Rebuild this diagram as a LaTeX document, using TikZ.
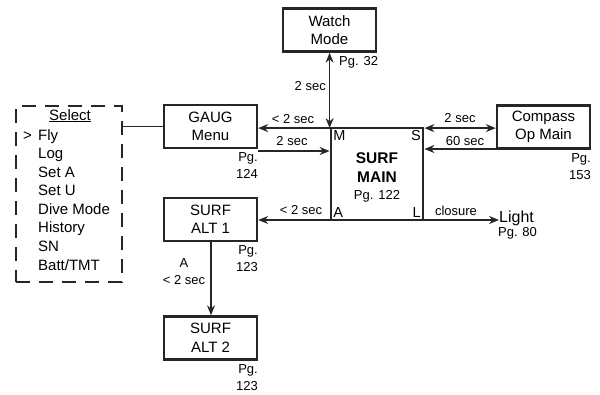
\documentclass[tikz,border=0pt]{standalone}
\usepackage{fontspec}
\setmainfont{Liberation Sans}
\usetikzlibrary{arrows.meta,calc}
\begin{document}
\begin{tikzpicture}[x=1pt,y=-1pt,
  box/.style={draw=black!85,line width=2.4pt,minimum width=93pt,minimum height=43pt,inner sep=0pt,align=center,font=\fontsize{15}{18.5}\selectfont},
  lbl/.style={inner sep=1pt,font=\fontsize{13}{15}\selectfont},
  pg/.style={inner sep=0pt,align=right,font=\fontsize{13}{17}\selectfont},
  corner/.style={font=\fontsize{14.5}{16}\selectfont,inner sep=0pt},
  conn/.style={line width=1.3pt,draw=black!85},
  tip/.style={-{Stealth[length=10pt,width=8pt]}},
  tips/.style={{Stealth[length=10pt,width=8pt]}-{Stealth[length=10pt,width=8pt]}},
  item/.style={anchor=base west,inner sep=0pt,font=\fontsize{15}{18}\selectfont}]
\useasboundingbox (0,0) rectangle (600,394);
% boxes
\node[box] (watch) at (329.5,30) {Watch\\Mode};
\node[box] (gaug) at (210.5,126.5) {GAUG\\Menu};
\node[box] (comp) at (543.5,127) {Compass\\Op Main};
\node[box] (alt1) at (210.5,219.5) {SURF\\ALT 1};
\node[box] (alt2) at (210.5,338) {SURF\\ALT 2};
\node[draw=black!85,line width=2.8pt,minimum width=92pt,minimum height=92pt,inner sep=0pt] (main) at (377,174) {};
\node[font=\fontsize{15.5}{19}\selectfont\bfseries,align=center,inner sep=0pt] (mt) at (377,168) {SURF\\MAIN};
\node[font=\fontsize{13}{15}\selectfont,inner sep=0pt] (mp) at (377,196) {Pg. 122};
\node[corner,anchor=north west] (mM) at ($(main.north west)+(3.5,3.5)$) {M};
\node[corner,anchor=north east] (mS) at ($(main.north east)+(-3.5,3.5)$) {S};
\node[corner,anchor=south west] (mA) at ($(main.south west)+(3.5,-3.5)$) {A};
\node[corner,anchor=south east] (mL) at ($(main.south east)+(-3.5,-3.5)$) {L};
% page labels
\node[pg,anchor=north west] (pw) at (339,56) {Pg. 32};
\node[pg,anchor=north east] (pgg) at (258,152) {Pg.\\124};
\node[pg,anchor=north east] (pgc) at (591,153) {Pg.\\153};
\node[pg,anchor=north east] (pa1) at (258,245) {Pg.\\123};
\node[pg,anchor=north east] (pa2) at (258,364) {Pg.\\123};
% light
\node[inner sep=0pt,anchor=west,font=\fontsize{16}{18}\selectfont] (light) at (499,218.5) {Light};
\node[pg,anchor=center] (pl) at (517.5,233) {Pg. 80};
% select box
\node[draw=black!85,line width=2.6pt,dash pattern=on 14pt off 9pt,minimum width=106pt,minimum height=176pt,inner sep=0pt] (sel) at (69,194) {};
\node[anchor=base,inner sep=0pt,font=\fontsize{15}{18}\selectfont] (selt) at (70,120) {\underline{Select}};
\node[item] (i0) at (23,140) {>};
\node[item] (i1) at (38,140) {Fly};
\node[item] (i2) at (38,158.6) {Log};
\node[item] (i3) at (38,177.1) {Set A};
\node[item] (i4) at (38,195.7) {Set U};
\node[item] (i5) at (38,214.3) {Dive Mode};
\node[item] (i6) at (38,232.9) {History};
\node[item] (i7) at (38,251.4) {SN};
\node[item] (i8) at (38,270) {Batt/TMT};
% coordinates on main
\coordinate (m1) at ($(main.north west)+(0,1.5)$);
\coordinate (m2) at ($(main.west)+(0,-23)$);
\coordinate (s1) at ($(main.north east)+(0,1.5)$);
\coordinate (s2) at ($(main.east)+(0,-25)$);
\coordinate (lc) at ($(main.south east)+(0,-1.4)$);
\coordinate (ac) at ($(main.south west)+(0,-1.4)$);
% connectors
\draw[conn] (sel.east |- gaug.west) -- (gaug.west);
\draw[conn,tips] (watch.south -| m1) -- (m1);
\node[lbl,anchor=east] (l1) at (327,86) {2 sec};
\draw[conn,tip] (m1) -- (gaug.east |- m1);
\node[lbl,anchor=base] (l2) at (293,123) {< 2 sec};
\draw[conn,tip] (gaug.south east |- m2) -- (m2);
\node[lbl,anchor=base] (l3) at (292,145) {2 sec};
\draw[conn,tips] (s1) -- (comp.west |- s1);
\node[lbl,anchor=base] (l4) at (460,122) {2 sec};
\draw[conn,tip] (comp.west |- s2) -- (s2);
\node[lbl,anchor=base] (l5) at (465,145) {60 sec};
\draw[conn,tip] (lc) -- (light.west |- lc);
\node[lbl,anchor=base] (l6) at (456,215) {closure};
\draw[conn,tip] (ac) -- (alt1.east |- ac);
\node[lbl,anchor=base] (l7) at (301,214) {< 2 sec};
\draw[conn,tip] (alt1.south -| 211,0) -- (alt2.north -| 211,0);
\node[lbl,align=center,font=\fontsize{13}{17}\selectfont] (l8) at (184,272) {A\\< 2 sec};
\end{tikzpicture}
\end{document}
